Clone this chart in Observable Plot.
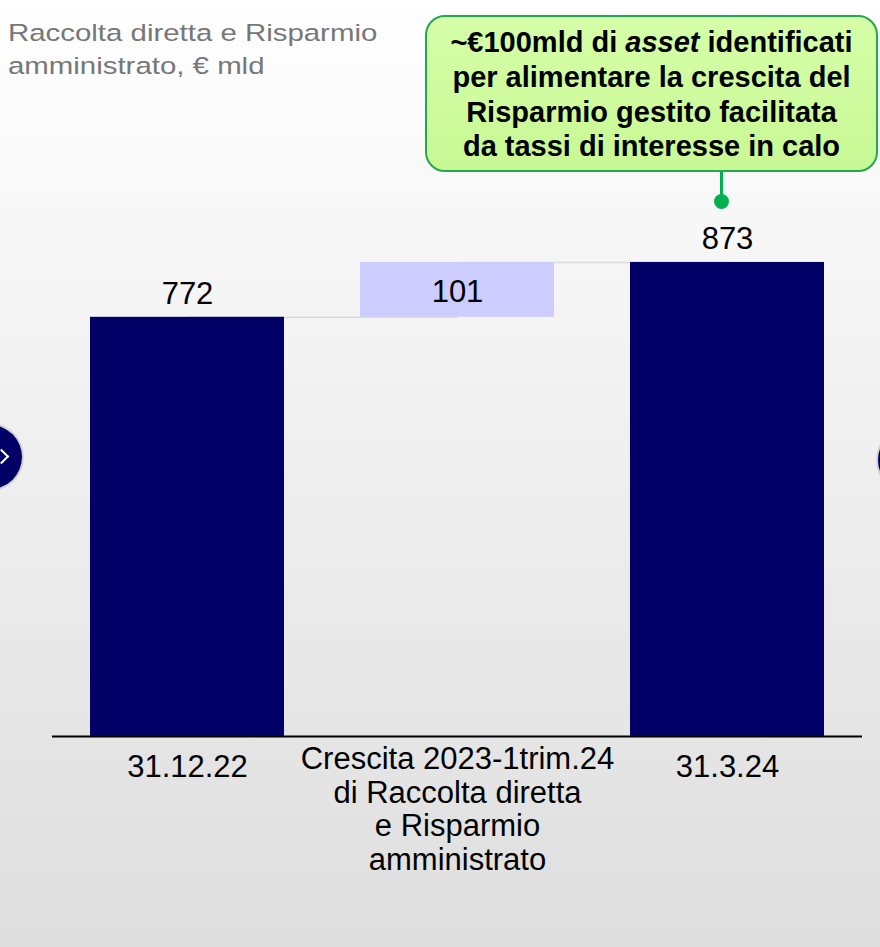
<!DOCTYPE html>
<html>
<head>
<meta charset="utf-8">
<script src="https://cdn.jsdelivr.net/npm/d3@7"></script>
<script src="https://cdn.jsdelivr.net/npm/@observablehq/plot@0.6"></script>
<style>
  html, body { margin: 0; padding: 0; }
  body {
    width: 880px; height: 947px; position: relative; overflow: hidden;
    background: linear-gradient(180deg, #ffffff 0%, #f5f5f5 30%, #dedede 100%);
    font-family: "Liberation Sans", Arial, sans-serif;
  }
  #chart { position: absolute; left: 0; top: 0; }
  #title {
    position: absolute; left: 8px; top: 17px; color: #777777;
    font-size: 24.5px; line-height: 32.5px; white-space: nowrap;
    transform: scaleX(1.2); transform-origin: 0 0;
  }
  #callout {
    position: absolute; left: 425px; top: 15px; width: 453px; height: 157px;
    box-sizing: border-box; border: 2px solid #22a850; border-radius: 20px;
    background: linear-gradient(180deg, #d6ffa8 0%, #c8f894 100%);
    font-weight: bold; font-size: 29px; line-height: 34.8px; text-align: center;
    padding-top: 8px; color: #000; white-space: nowrap;
  }
  #stem { position: absolute; left: 720px; top: 172px; width: 3px; height: 28px; background: #00b050; }
  #dot { position: absolute; left: 714px; top: 194px; width: 15px; height: 15px; border-radius: 50%; background: #00b050; }
  .nav {
    position: absolute; width: 64px; height: 64px; border-radius: 50%;
    background: #000066; box-shadow: 0 0 0 2px #d4d4d4;
  }
  #navL { left: -42px; top: 425px; }
  #navR { left: 878px; top: 428px; }
  #chev {
    position: absolute; left: -4px; top: 451px; width: 9px; height: 9px;
    border-top: 2px solid #fff; border-right: 2px solid #fff; transform: rotate(45deg);
  }
</style>
</head>
<body>
<div id="chart"></div>
<div class="nav" id="navL"></div>
<div id="chev"></div>
<div class="nav" id="navR"></div>
<div id="title">Raccolta diretta e Risparmio<br>amministrato, € mld</div>
<div id="callout">~€100mld di <i>asset</i> identificati<br>per alimentare la crescita del<br>Risparmio gestito facilitata<br>da tassi di interesse in calo</div>
<div id="stem"></div>
<div id="dot"></div>
<script>
// Data
const categories = [
  "31.12.22",
  "Crescita 2023-1trim.24\ndi Raccolta diretta\ne Risparmio\namministrato",
  "31.3.24"
];
const values = [772, 101, 873];
const kinds = ["total", "delta", "total"];

// Build waterfall rows
let running = 0;
const rows = categories.map((cat, i) => {
  let y1, y2;
  if (kinds[i] === "total") { y1 = 0; y2 = values[i]; running = values[i]; }
  else { y1 = running; y2 = running + values[i]; running = y2; }
  return { cat, kind: kinds[i], value: values[i], y1, y2 };
});
const connectors = rows.slice(0, -1).map((r, i) => ({ from: r.cat, to: rows[i + 1].cat, level: r.y2 }));
const totals = rows.filter(d => d.kind === "total");
const deltas = rows.filter(d => d.kind === "delta");

const navy = "#000066", lavender = "#ccccff";

const chart = Plot.plot({
  width: 880,
  height: 947,
  marginLeft: 52,
  marginRight: 18,
  marginTop: 193,
  marginBottom: 211,
  style: { background: "transparent", fontFamily: "'Liberation Sans', Arial, sans-serif", overflow: "visible" },
  x: { domain: categories, paddingInner: 76 / 270, paddingOuter: 38 / 270, axis: null },
  y: { domain: [0, 1000], axis: null },
  marks: [
    Plot.link(connectors, { x1: "from", x2: "to", y1: "level", y2: "level", stroke: "#dadada", strokeWidth: 1.6 }),
    Plot.barY(rows, { x: "cat", y1: "y1", y2: "y2", fill: d => d.kind === "total" ? navy : lavender }),
    Plot.ruleY([0], { stroke: "#000", strokeWidth: 2 }),
    Plot.text(totals, { x: "cat", y: "y2", text: d => String(d.value), dy: -23, fontSize: 31, fill: "#000" }),
    Plot.text(deltas, { x: "cat", y: d => (d.y1 + d.y2) / 2, text: d => String(d.value), dy: 2, fontSize: 31, fill: "#000" }),
    Plot.text(totals, { x: "cat", y: 0, text: "cat", lineAnchor: "top", dy: 18, fontSize: 31, fill: "#000" }),
    Plot.text(deltas, { x: "cat", y: 0, text: "cat", lineAnchor: "top", dy: 9, fontSize: 31, lineHeight: 1.08, fill: "#000" })
  ]
});
document.getElementById("chart").appendChild(chart);
</script>
</body>
</html>
